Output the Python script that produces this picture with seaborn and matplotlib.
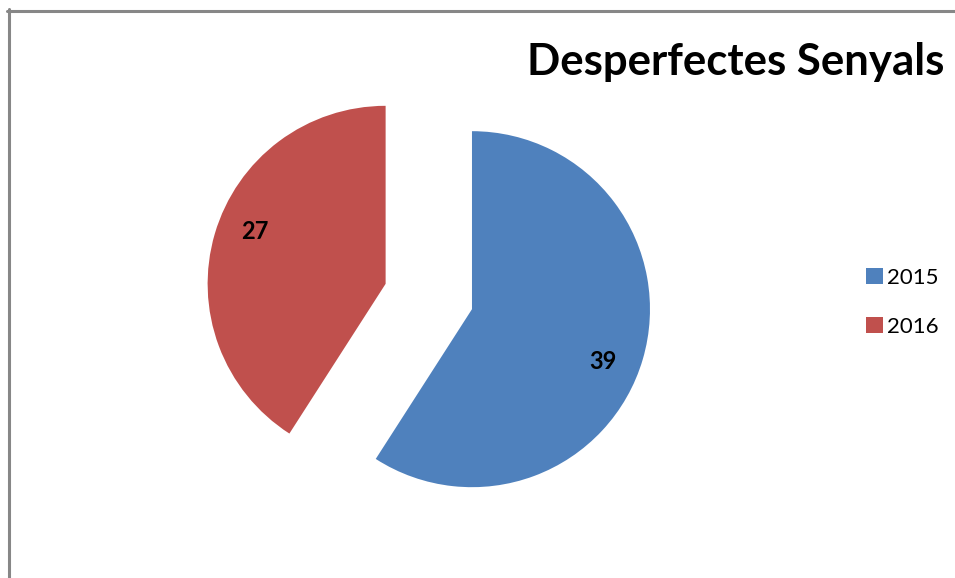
import numpy as np
import matplotlib.pyplot as plt
import seaborn as sns
from matplotlib.lines import Line2D
from matplotlib.patches import Patch

years = ["2015", "2016"]
counts = [39, 27]
colors = ["#4F81BD", "#C0504D"]
title = "Desperfectes Senyals"

sns.set_style("white")
plt.rcParams["font.family"] = ["Lato", "DejaVu Sans"]
plt.rcParams["text.color"] = "black"

W, H = 955, 578
fig = plt.figure(figsize=(W / 100, H / 100), dpi=100)
ax = fig.add_axes([0, 0, 1, 1])

# explode is in data units here (pixels), the axes maps 1 unit to 1 pixel
wedges, _ = ax.pie(
    counts,
    colors=colors,
    startangle=90,
    counterclock=False,
    explode=[45, 45],
    radius=178,
    center=(428.8, H - 296.5),
    wedgeprops={"linewidth": 0},
)
ax.set_xlim(0, W)
ax.set_ylim(0, H)
ax.set_aspect("equal")
ax.axis("off")

# value labels, a bit clockwise of each slice's middle like Excel puts them
for w, v in zip(wedges, counts):
    ang = np.deg2rad((w.theta1 + w.theta2) / 2 - 5.5)
    cx, cy = w.center
    ax.text(cx + 0.79 * w.r * np.cos(ang), cy + 0.79 * w.r * np.sin(ang), str(v),
            ha="center", va="center", fontsize=17, fontweight="bold")

fig.text(944 / W, 1 - 62 / H, title, ha="right", va="center",
         fontsize=31.5, fontweight="bold", color="black")

handles = [Patch(facecolor=c, edgecolor="none") for c in colors]
fig.legend(handles, years, loc="upper left", bbox_to_anchor=(846 / W, 1 - 248 / H),
           frameon=False, fontsize=16, handlelength=0.75, handleheight=0.75,
           handletextpad=0.2, labelspacing=1.3)

gray = "#878787"
fig.add_artist(Line2D([8.5 / W, 8.5 / W], [0, 1 - 9 / H], color=gray, lw=2.2,
                      transform=fig.transFigure))
fig.add_artist(Line2D([7 / W, 1], [1 - 10.5 / H, 1 - 10.5 / H], color=gray, lw=2.2,
                      transform=fig.transFigure))

fig.savefig("out.png", dpi=100)
